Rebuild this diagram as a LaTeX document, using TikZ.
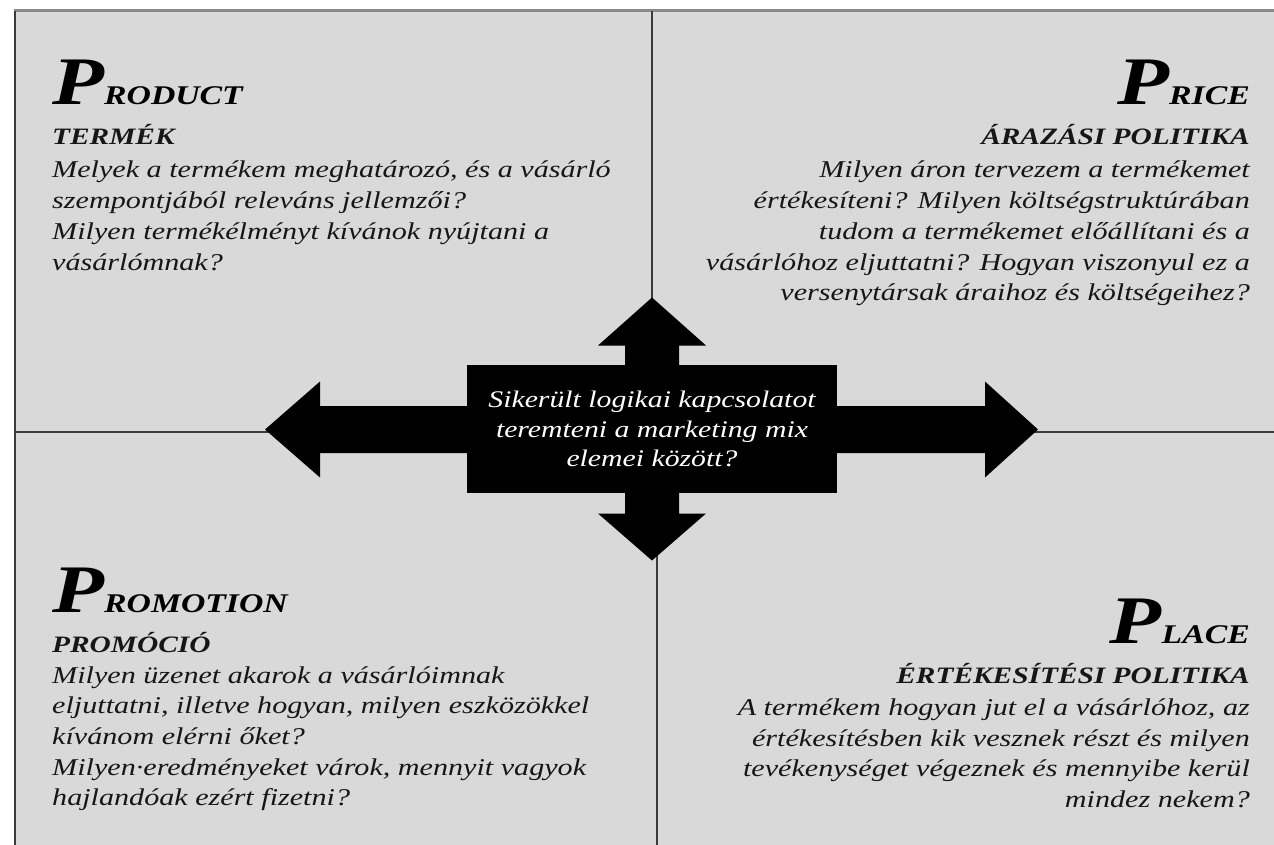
\documentclass[tikz,border=0pt]{standalone}
\usepackage{fontspec}
\setmainfont{Liberation Serif}[FakeStretch=1.25]
\usepackage{tikz}
\definecolor{panelgray}{HTML}{D9D9D9}
\definecolor{rulegray}{HTML}{8A8A8A}
\definecolor{framedark}{HTML}{3A3A3A}
\definecolor{textdark}{HTML}{161616}

% big initial P followed by the smaller capitals
\newcommand{\mixtitle}[1]{{\fontsize{68}{68}\selectfont P}{\fontsize{27}{27}\selectfont #1}}

\begin{document}
\begin{tikzpicture}[x=1pt, y=-1pt,
    title/.style={inner sep=0pt, font=\bfseries\itshape, text=black},
    head/.style={inner sep=0pt, font=\fontsize{23.5}{23.5}\selectfont\bfseries\itshape, text=textdark},
    body/.style={inner sep=0pt, font=\fontsize{24.1}{30.7}\selectfont\itshape, text=textdark}]
  \useasboundingbox (0,0) rectangle (1274,845);

  % ── PANEL ──────────────────────────────────
  \fill[panelgray] (14,11) rectangle (1274,845);
  \draw[rulegray, line width=3pt] (14,11) -- (1274,11);
  \draw[framedark, line width=2.5pt] (15,11) -- (15,845);

  % ── DIVIDERS ───────────────────────────────
  \draw[framedark, line width=1.6pt] (14,432) -- (1274,432);
  \draw[framedark, line width=1.6pt] (652,11) -- (652,300);
  \draw[framedark, line width=1.6pt] (657,555) -- (657,845);

  % ── ARROW CROSS ────────────────────────────
  \foreach \ang/\sw/\hw/\hb/\tp in {0/23.5/48/333/386, 180/23.5/48/332/387,
                                    90/27/54/84/132, 270/27/54/84/131} {
    \fill[black, shift={(652,429.5)}, rotate=\ang]
      (0,-\sw) -- (\hb,-\sw) -- (\hb,-\hw) -- (\tp,0)
      -- (\hb,\hw) -- (\hb,\sw) -- (0,\sw) -- cycle;
  }

  % ── CENTRE QUESTION ────────────────────────
  \node[fill=black, text=white, minimum width=370pt, minimum height=128pt,
        inner sep=0pt, align=center, font=\fontsize{23.8}{29.5}\selectfont\itshape]
    (mixq) at (652,429) {Sikerült logikai kapcsolatot\\teremteni a marketing mix\\elemei között?};

  % ── PRODUCT ────────────────────────────────
  \node[title, anchor=base west] (prodT) at (52,105) {\mixtitle{RODUCT}};
  \node[head, anchor=base west] (prodH) at (52,145) {TERMÉK};
  \foreach \ln [count=\i] in {{Melyek a termékem meghatározó, és a vásárló},
      {szempontjából releváns jellemzői?},
      {Milyen termékélményt kívánok nyújtani a},
      {vásárlómnak?}}
    \node[body, anchor=base west] (prod\i) at (52,147.3+30.7*\i) {\ln};

  % ── PRICE ──────────────────────────────────
  \node[title, anchor=base east] (priceT) at (1250,105) {\mixtitle{RICE}};
  \node[head, anchor=base east] (priceH) at (1250,145) {ÁRAZÁSI POLITIKA};
  \foreach \ln [count=\i] in {{Milyen áron tervezem a termékemet},
      {értékesíteni? Milyen költségstruktúrában},
      {tudom a termékemet előállítani és a},
      {vásárlóhoz eljuttatni? Hogyan viszonyul ez a},
      {versenytársak áraihoz és költségeihez?}}
    \node[body, anchor=base east] (price\i) at (1250,147.3+30.7*\i) {\ln};

  % ── PROMOTION ──────────────────────────────
  \node[title, anchor=base west] (promT) at (52,612) {\mixtitle{ROMOTION}};
  \node[head, anchor=base west] (promH) at (52,652) {PROMÓCIÓ};
  \foreach \ln [count=\i] in {{Milyen üzenet akarok a vásárlóimnak},
      {eljuttatni, illetve hogyan, milyen eszközökkel},
      {kívánom elérni őket?},
      {Milyen·eredményeket várok, mennyit vagyok},
      {hajlandóak ezért fizetni?}}
    \node[body, anchor=base west] (prom\i) at (52,652.3+30.7*\i) {\ln};

  % ── PLACE ──────────────────────────────────
  \node[title, anchor=base east] (placeT) at (1250,643) {\mixtitle{LACE}};
  \node[head, anchor=base east] (placeH) at (1250,683) {ÉRTÉKESÍTÉSI POLITIKA};
  \foreach \ln [count=\i] in {{A termékem hogyan jut el a vásárlóhoz, az},
      {értékesítésben kik vesznek részt és milyen},
      {tevékenységet végeznek és mennyibe kerül},
      {mindez nekem?}}
    \node[body, anchor=base east] (place\i) at (1250,684.2+30.9*\i) {\ln};
\end{tikzpicture}
\end{document}
